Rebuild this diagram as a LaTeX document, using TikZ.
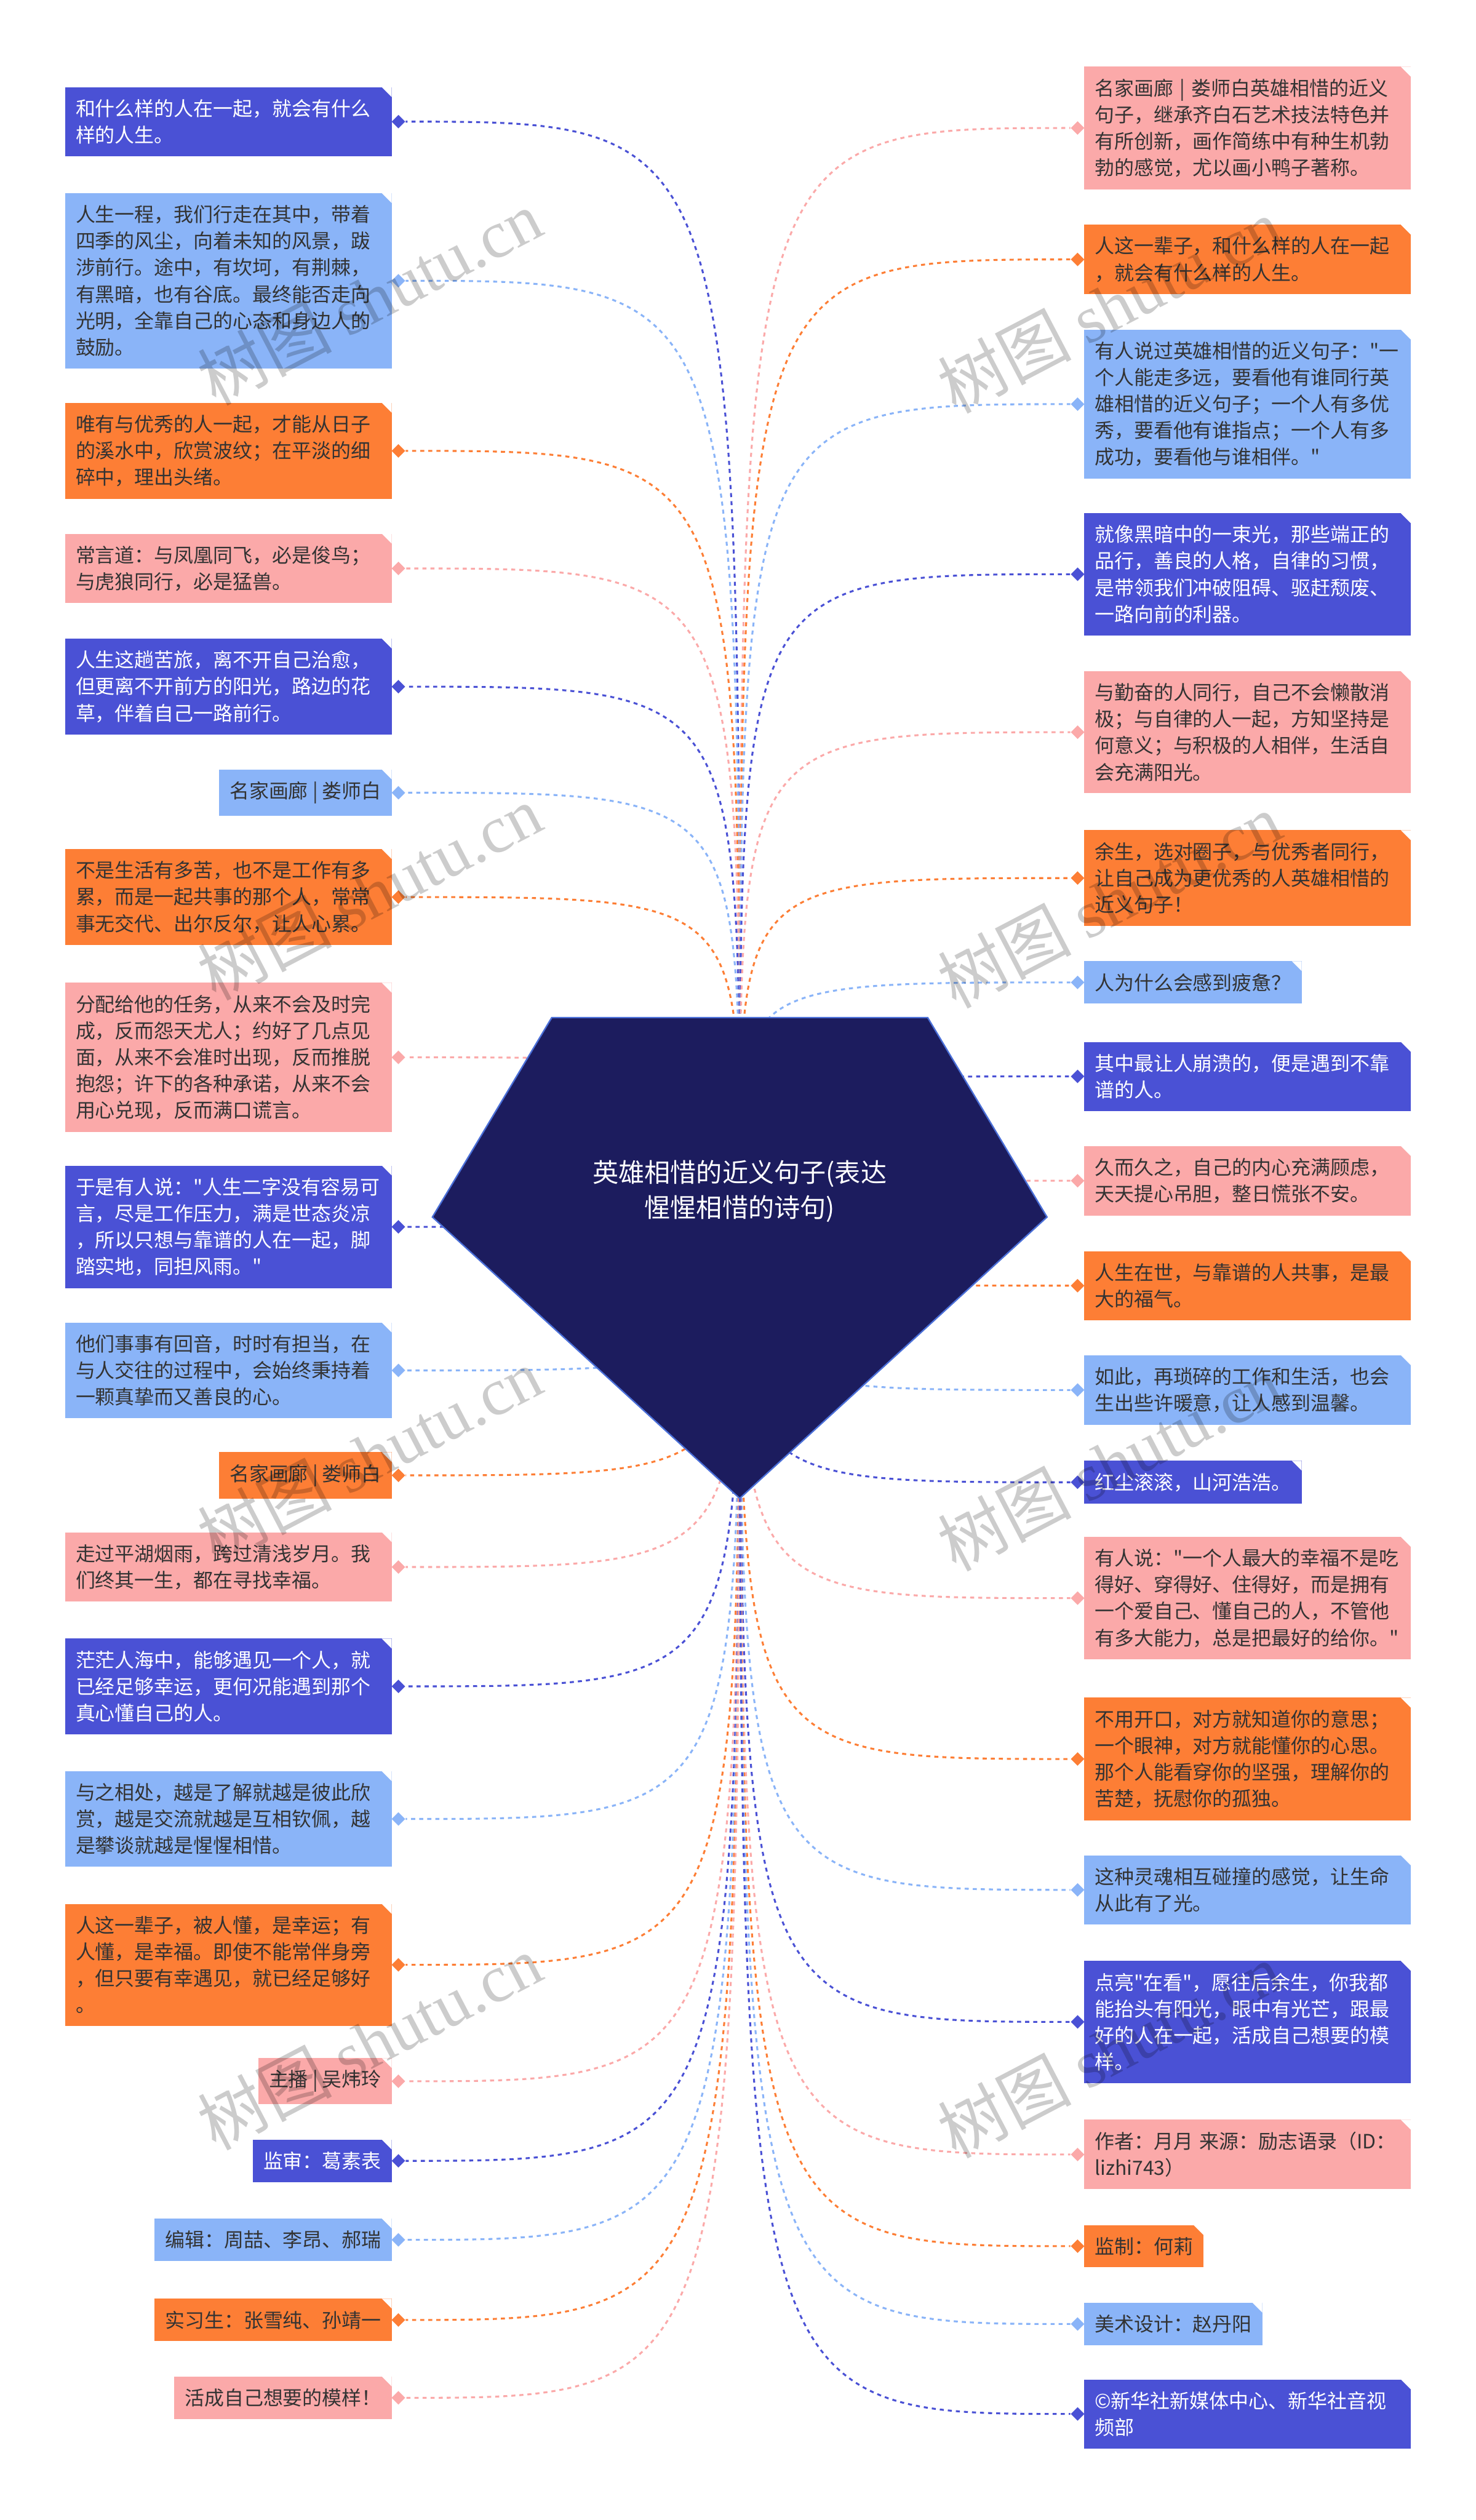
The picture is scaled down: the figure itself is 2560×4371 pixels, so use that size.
\documentclass[tikz,border=0pt]{standalone}
\usepackage{fontspec}
\setmainfont{Noto Sans CJK SC}[Ligatures=TeXOff]
\newfontfamily\wmfont{Liberation Serif}
\usetikzlibrary{shapes.geometric,backgrounds}

\definecolor{cdk}{HTML}{4A51D5}
\definecolor{clt}{HTML}{8AB4F8}
\definecolor{cog}{HTML}{FD7E35}
\definecolor{cpk}{HTML}{FBA9A9}
\definecolor{ctxt}{HTML}{333333}
\definecolor{chub}{HTML}{1C1C5E}
\definecolor{cedge}{HTML}{4A6FD8}

\begin{document}
\begin{tikzpicture}[x=0.1mm, y=-0.1mm,
  leaf/.style={inner xsep=1.8mm, inner ysep=2.1mm, align=left, text=ctxt,
    font=\fontsize{9.7pt}{13.1pt}\selectfont,
    path picture={\fill[white] ([xshift=-1.7mm]path picture bounding box.north east)
      -- (path picture bounding box.north east)
      -- ([yshift=-1.7mm]path picture bounding box.north east) -- cycle;}},
  lbox/.style={leaf, anchor=east},
  rbox/.style={leaf, anchor=west},
  wide/.style={text width=53mm},
  dk/.style={fill=cdk, text=white},
  lt/.style={fill=clt},
  og/.style={fill=cog},
  pk/.style={fill=cpk},
  dmd/.style={diamond, inner sep=0pt, minimum size=2.4mm},
  link/.style={line width=0.33mm, dash pattern=on 0.7mm off 0.7mm},
  hubtext/.style={align=center, text=white, font=\fontsize{12.8pt}{17.4pt}\selectfont},
  wmark/.style={rotate=27.6, text=black, text opacity=0.2, font=\fontsize{33pt}{33pt}\selectfont}]
\useasboundingbox (0,0) rectangle (2560,4371);

% central gem
\filldraw[fill=chub, draw=cedge, line width=0.25mm] (957,1765) -- (1609,1765) -- (1816,2111) -- (1283,2599) -- (750,2111) -- cycle;
\node[hubtext] (hub) at (1283,2066) {英雄相惜的近义句子(表达\\惺惺相惜的诗句)};

% left column
\node[lbox, wide, dk] (l1) at (680,211) {和什么样的人在一起，就会有什么\\样的人生。};
\node[lbox, wide, lt] (l2) at (680,487) {人生一程，我们行走在其中，带着\\四季的风尘，向着未知的风景，跋\\涉前行。途中，有坎坷，有荆棘，\\有黑暗，也有谷底。最终能否走向\\光明，全靠自己的心态和身边人的\\鼓励。};
\node[lbox, wide, og] (l3) at (680,782) {唯有与优秀的人一起，才能从日子\\的溪水中，欣赏波纹；在平淡的细\\碎中，理出头绪。};
\node[lbox, wide, pk] (l4) at (680,986) {常言道：与凤凰同飞，必是俊鸟；\\与虎狼同行，必是猛兽。};
\node[lbox, wide, dk] (l5) at (680,1191) {人生这趟苦旅，离不开自己治愈，\\但更离不开前方的阳光，路边的花\\草，伴着自己一路前行。};
\node[lbox, lt] (l6) at (680,1375) {名家画廊 | 娄师白};
\node[lbox, wide, og] (l7) at (680,1556) {不是生活有多苦，也不是工作有多\\累，而是一起共事的那个人，常常\\事无交代、出尔反尔，让人心累。};
\node[lbox, wide, pk] (l8) at (680,1834) {分配给他的任务，从来不会及时完\\成，反而怨天尤人；约好了几点见\\面，从来不会准时出现，反而推脱\\抱怨；许下的各种承诺，从来不会\\用心兑现，反而满口谎言。};
\node[lbox, wide, dk] (l9) at (680,2128) {于是有人说："人生二字没有容易可\\言，尽是工作压力，满是世态炎凉\\，所以只想与靠谱的人在一起，脚\\踏实地，同担风雨。"};
\node[lbox, wide, lt] (l10) at (680,2377) {他们事事有回音，时时有担当，在\\与人交往的过程中，会始终秉持着\\一颗真挚而又善良的心。};
\node[lbox, og] (l11) at (680,2559) {名家画廊 | 娄师白};
\node[lbox, wide, pk] (l12) at (680,2718) {走过平湖烟雨，跨过清浅岁月。我\\们终其一生，都在寻找幸福。};
\node[lbox, wide, dk] (l13) at (680,2925) {茫茫人海中，能够遇见一个人，就\\已经足够幸运，更何况能遇到那个\\真心懂自己的人。};
\node[lbox, wide, lt] (l14) at (680,3155) {与之相处，越是了解就越是彼此欣\\赏，越是交流就越是互相钦佩，越\\是攀谈就越是惺惺相惜。};
\node[lbox, wide, og] (l15) at (680,3408) {人这一辈子，被人懂，是幸运；有\\人懂，是幸福。即使不能常伴身旁\\，但只要有幸遇见，就已经足够好\\。};
\node[lbox, pk] (l16) at (680,3610) {主播 | 吴炜玲};
\node[lbox, dk] (l17) at (680,3748) {监审：葛素表};
\node[lbox, lt] (l18) at (680,3885) {编辑：周喆、李昂、郝瑞};
\node[lbox, og] (l19) at (680,4024) {实习生：张雪纯、孙靖一};
\node[lbox, pk] (l20) at (680,4159) {活成自己想要的模样！};

% right column
\node[rbox, wide, pk] (r1) at (1880,222) {名家画廊 | 娄师白英雄相惜的近义\\句子，继承齐白石艺术技法特色并\\有所创新，画作简练中有种生机勃\\勃的感觉，尤以画小鸭子著称。};
\node[rbox, wide, og] (r2) at (1880,450) {人这一辈子，和什么样的人在一起\\，就会有什么样的人生。};
\node[rbox, wide, lt] (r3) at (1880,701) {有人说过英雄相惜的近义句子："一\\个人能走多远，要看他有谁同行英\\雄相惜的近义句子；一个人有多优\\秀，要看他有谁指点；一个人有多\\成功，要看他与谁相伴。"};
\node[rbox, wide, dk] (r4) at (1880,996) {就像黑暗中的一束光，那些端正的\\品行，善良的人格，自律的习惯，\\是带领我们冲破阻碍、驱赶颓废、\\一路向前的利器。};
\node[rbox, wide, pk] (r5) at (1880,1270) {与勤奋的人同行，自己不会懒散消\\极；与自律的人一起，方知坚持是\\何意义；与积极的人相伴，生活自\\会充满阳光。};
\node[rbox, wide, og] (r6) at (1880,1523) {余生，选对圈子，与优秀者同行，\\让自己成为更优秀的人英雄相惜的\\近义句子！};
\node[rbox, lt] (r7) at (1880,1704) {人为什么会感到疲惫？};
\node[rbox, wide, dk] (r8) at (1880,1867) {其中最让人崩溃的，便是遇到不靠\\谱的人。};
\node[rbox, wide, pk] (r9) at (1880,2048) {久而久之，自己的内心充满顾虑，\\天天提心吊胆，整日慌张不安。};
\node[rbox, wide, og] (r10) at (1880,2230) {人生在世，与靠谱的人共事，是最\\大的福气。};
\node[rbox, wide, lt] (r11) at (1880,2411) {如此，再琐碎的工作和生活，也会\\生出些许暖意，让人感到温馨。};
\node[rbox, dk] (r12) at (1880,2571) {红尘滚滚，山河浩浩。};
\node[rbox, wide, pk] (r13) at (1880,2772) {有人说："一个人最大的幸福不是吃\\得好、穿得好、住得好，而是拥有\\一个爱自己、懂自己的人，不管他\\有多大能力，总是把最好的给你。"};
\node[rbox, wide, og] (r14) at (1880,3051) {不用开口，对方就知道你的意思；\\一个眼神，对方就能懂你的心思。\\那个人能看穿你的坚强，理解你的\\苦楚，抚慰你的孤独。};
\node[rbox, wide, lt] (r15) at (1880,3278) {这种灵魂相互碰撞的感觉，让生命\\从此有了光。};
\node[rbox, wide, dk] (r16) at (1880,3507) {点亮"在看"，愿往后余生，你我都\\能抬头有阳光，眼中有光芒，跟最\\好的人在一起，活成自己想要的模\\样。};
\node[rbox, wide, pk] (r17) at (1880,3737) {作者：月月 来源：励志语录（ID：\\lizhi743）};
\node[rbox, og] (r18) at (1880,3896) {监制：何莉};
\node[rbox, lt] (r19) at (1880,4031) {美术设计：赵丹阳};
\node[rbox, wide, dk] (r20) at (1880,4187) {©新华社新媒体中心、新华社音视\\频部};

% diamonds on the box edges
\foreach \k/\col in {1/cdk,2/clt,3/cog,4/cpk,5/cdk,6/clt,7/cog,8/cpk,9/cdk,10/clt,
                     11/cog,12/cpk,13/cdk,14/clt,15/cog,16/cpk,17/cdk,18/clt,19/cog,20/cpk}
  \node[dmd, fill=\col] (dl\k) at ([xshift=1.1mm]l\k.east) {};
\foreach \k/\col in {1/cpk,2/cog,3/clt,4/cdk,5/cpk,6/cog,7/clt,8/cdk,9/cpk,10/cog,
                     11/clt,12/cdk,13/cpk,14/cog,15/clt,16/cdk,17/cpk,18/cog,19/clt,20/cdk}
  \node[dmd, fill=\col] (dr\k) at ([xshift=-1.1mm]r\k.west) {};

\begin{pgfonlayer}{background}
\fill[white] (0,0) rectangle (2560,4371);
\foreach \k/\col in {1/cdk,2/clt,3/cog,4/cpk,5/cdk,6/clt,7/cog,8/cpk,9/cdk,10/clt,
                     11/cog,12/cpk,13/cdk,14/clt,15/cog,16/cpk,17/cdk,18/clt,19/cog,20/cpk}
  \draw[link, \col] (hub.center) .. controls (hub.center |- dl\k) .. (dl\k);
\foreach \k/\col in {1/cpk,2/cog,3/clt,4/cdk,5/cpk,6/cog,7/clt,8/cdk,9/cpk,10/cog,
                     11/clt,12/cdk,13/cpk,14/cog,15/clt,16/cdk,17/cpk,18/cog,19/clt,20/cdk}
  \draw[link, \col] (hub.center) .. controls (hub.center |- dr\k) .. (dr\k);
\end{pgfonlayer}

% watermark
\foreach \wx/\wy [count=\w] in {641/516,1924/530,641/1548,1924/1562,641/2524,
                                1924/2538,641/3542,1924/3556,641/4532,1924/4532}
  \node[wmark] (w\w) at (\wx,\wy) {树图 {\wmfont shutu.cn}};
\end{tikzpicture}
\end{document}
